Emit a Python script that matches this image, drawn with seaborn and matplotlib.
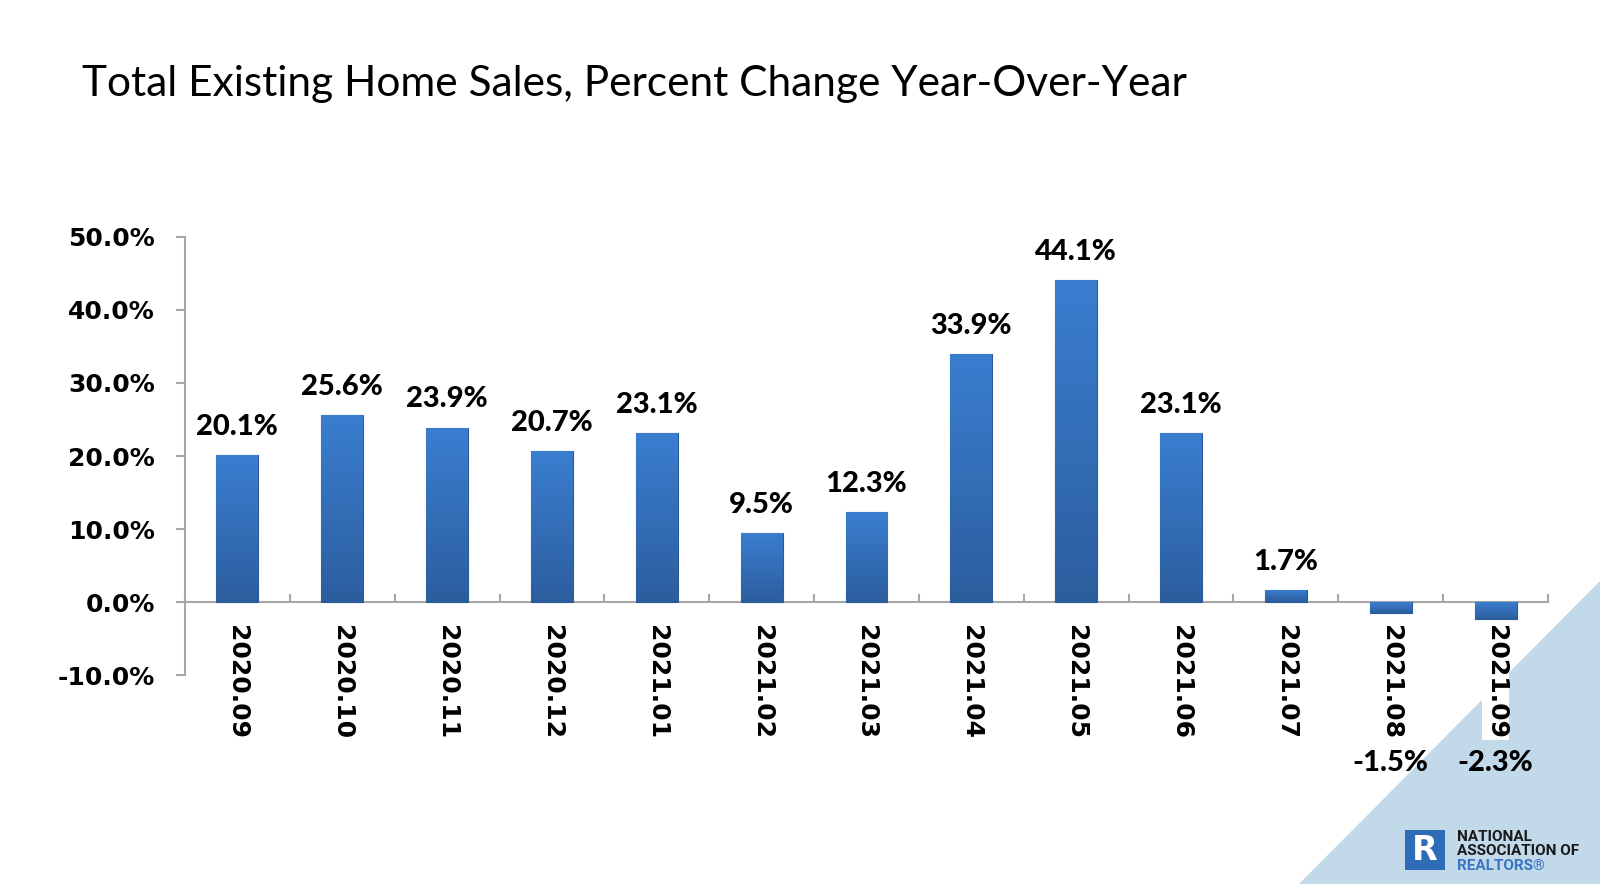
import numpy as np
import matplotlib
matplotlib.use("Agg")
import matplotlib.pyplot as plt
import seaborn as sns
from matplotlib.colors import LinearSegmentedColormap
from matplotlib.patches import Polygon, Rectangle

# data
months = ["2020.09", "2020.10", "2020.11", "2020.12", "2021.01", "2021.02", "2021.03",
          "2021.04", "2021.05", "2021.06", "2021.07", "2021.08", "2021.09"]
pct_change = [20.1, 25.6, 23.9, 20.7, 23.1, 9.5, 12.3, 33.9, 44.1, 23.1, 1.7, -1.5, -2.3]
y_ticks = [-10, 0, 10, 20, 30, 40, 50]

sns.set_theme(style="white")
plt.rcParams["font.family"] = ["DejaVu Sans"]

fig = plt.figure(figsize=(16, 8.84), dpi=100)
fig.patch.set_facecolor("white")

# light blue corner triangle
tri = Polygon([(1.0, 0.3428), (1.0, 0.0), (0.8119, 0.0)], closed=True,
              transform=fig.transFigure, facecolor="#C2D9E9", edgecolor="none", zorder=-1)
fig.patches.append(tri)

ax = fig.add_axes([0.1156, 0.2359, 0.8519, 0.4963])
ax.set_facecolor("none")
ax.set_zorder(1)

sns.barplot(x=months, y=pct_change, color="#3672BE", width=0.4, ax=ax,
            edgecolor="#2B5C99", linewidth=0.8, zorder=3)

# vertical gradient on each bar
cmap = LinearSegmentedColormap.from_list("bar", ["#2C5E9E", "#3A7ED0"])
grad = np.linspace(0, 1, 256).reshape(-1, 1)
for p in ax.patches:
    x0, y0 = p.get_x(), p.get_y()
    w, h = p.get_width(), p.get_height()
    lo, hi = min(y0, y0 + h), max(y0, y0 + h)
    im = ax.imshow(grad, cmap=cmap, aspect="auto", origin="lower",
                   extent=[x0, x0 + w, lo, hi], zorder=3.5)
    im.set_clip_path(p)

ax.set_xlim(-0.5, len(months) - 0.5)
ax.set_ylim(-10, 50)

# data labels
lab_font = dict(fontsize=21, fontweight="black", family=["Lato", "DejaVu Sans"], color="black")
for i, v in enumerate(pct_change):
    if v >= 0:
        ax.annotate(f"{v:.1f}%", xy=(i, v), xytext=(0, 11), textcoords="offset points",
                    ha="center", va="bottom", zorder=5, **lab_font)
    else:
        ax.text(i, -22.0, f"{v:.1f}%", ha="center", va="center",
                clip_on=False, zorder=5, **lab_font)

# axes styling
axis_col = "#A6A6A6"
for s in ["top", "right"]:
    ax.spines[s].set_visible(False)
ax.spines["left"].set_color(axis_col)
ax.spines["left"].set_linewidth(1.5)
ax.spines["bottom"].set_color(axis_col)
ax.spines["bottom"].set_linewidth(1.5)
ax.spines["bottom"].set_position(("data", 0))
ax.spines["left"].set_zorder(2)
ax.spines["bottom"].set_zorder(2)

ax.set_yticks(y_ticks)
ax.set_yticklabels([f"{t:.1f}%" for t in y_ticks], fontsize=18, fontweight="bold",
                   color="black")
ax.tick_params(axis="y", direction="out", length=6.5, width=1.5, color=axis_col,
               pad=15, left=True)

ax.set_xticks(np.arange(-0.5, len(months), 1.0))
ax.set_xticklabels([])
ax.set_xticks(np.arange(len(months)), minor=True)
ax.set_xticklabels(months, minor=True, rotation=270, fontsize=18, fontweight="bold",
                   color="black")
ax.tick_params(axis="x", which="major", direction="in", length=5.5, width=1.5,
               color=axis_col, bottom=True)
ax.tick_params(axis="x", which="minor", length=0, pad=16, bottom=True)
for lab in ax.get_xticklabels(minor=True):
    lab.set_bbox(dict(facecolor="white", edgecolor="none", pad=1))
ax.set_xlabel("")
ax.set_ylabel("")

# title
fig.text(0.0513, 0.905, "Total Existing Home Sales, Percent Change Year-Over-Year",
         fontsize=30.5, family=["Lato", "DejaVu Sans"], color="black", ha="left", va="center")

# NAR logo
fig.patches.append(Rectangle((1405 / 1600, 1 - 870 / 884), 40 / 1600, 40 / 884,
                             transform=fig.transFigure, facecolor="#2F6CB8",
                             edgecolor="none", zorder=2))
fig.text(1425 / 1600, 1 - 850 / 884, "R", fontsize=24,
         fontweight="bold", color="white", ha="center", va="center",
         family=["DejaVu Sans"], zorder=3)
logo_font = dict(fontsize=11, fontweight="bold", ha="left", va="center",
                 family=["Roboto", "DejaVu Sans"], zorder=3)
fig.text(1457 / 1600, 1 - 837 / 884, "NATIONAL", color="#1A1A1A", **logo_font)
fig.text(1457 / 1600, 1 - 851 / 884, "ASSOCIATION OF", color="#1A1A1A", **logo_font)
fig.text(1457 / 1600, 1 - 866 / 884, "REALTORS®", color="#3A74C4", **logo_font)

fig.savefig("out.png", dpi=100, facecolor="white")
